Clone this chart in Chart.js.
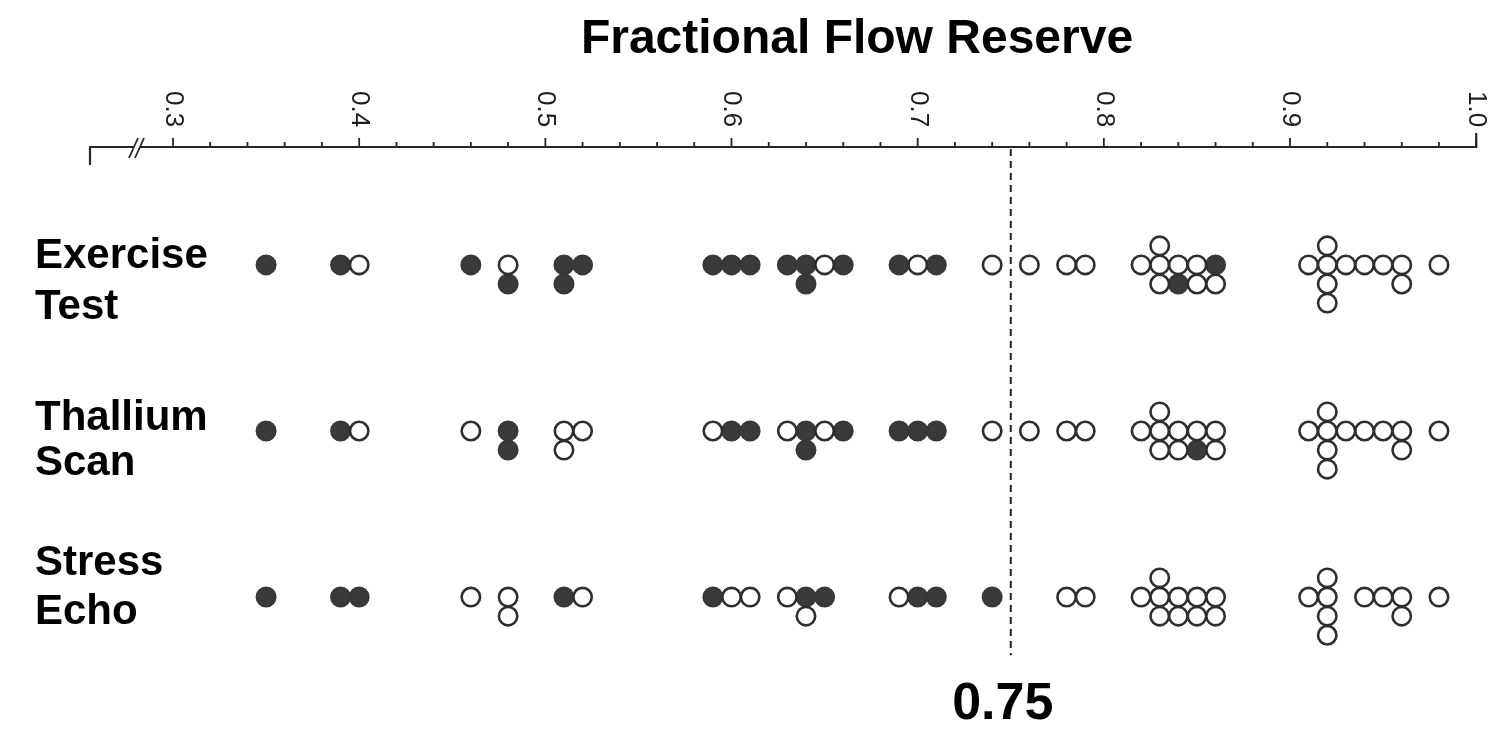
<!DOCTYPE html>
<html>
<head>
<meta charset="utf-8">
<title>Fractional Flow Reserve</title>
<script src="https://cdn.jsdelivr.net/npm/chart.js@4.4.0/dist/chart.umd.min.js"></script>
<style>
  html, body { margin: 0; padding: 0; background: #fff; }
  #wrap { width: 1488px; height: 750px; }
</style>
</head>
<body>
<div id="wrap"><canvas id="myChart" width="1488" height="750"></canvas></div>
<script>
// test names (two lines each), in row order
const testNames = [['Exercise', 'Test'], ['Thallium', 'Scan'], ['Stress', 'Echo']];

// FFR of each patient per test; 1 = test abnormal (filled dot), 0 = normal (open dot)
// patients with the same FFR are listed in their stacking order: centre, below, above, below again
const exerciseFFR = [0.35, 0.39, 0.40, 0.46, 0.48, 0.48, 0.51, 0.51, 0.52, 0.59, 0.60, 0.61, 0.63, 0.64, 0.64,
  0.65, 0.66, 0.69, 0.70, 0.71, 0.74, 0.76, 0.78, 0.79, 0.82, 0.83, 0.83, 0.83, 0.84, 0.84, 0.85, 0.85,
  0.86, 0.86, 0.91, 0.92, 0.92, 0.92, 0.92, 0.93, 0.94, 0.95, 0.96, 0.96, 0.98];
const exerciseAbnormal = [1, 1, 0, 1, 0, 1, 1, 1, 1, 1, 1, 1, 1, 1, 1,
  0, 1, 1, 0, 1, 0, 0, 0, 0, 0, 0, 0, 0, 0, 1, 0, 0,
  1, 0, 0, 0, 0, 0, 0, 0, 0, 0, 0, 0, 0];

const thalliumFFR = [0.35, 0.39, 0.40, 0.46, 0.48, 0.48, 0.51, 0.51, 0.52, 0.59, 0.60, 0.61, 0.63, 0.64, 0.64,
  0.65, 0.66, 0.69, 0.70, 0.71, 0.74, 0.76, 0.78, 0.79, 0.82, 0.83, 0.83, 0.83, 0.84, 0.84, 0.85, 0.85,
  0.86, 0.86, 0.91, 0.92, 0.92, 0.92, 0.92, 0.93, 0.94, 0.95, 0.96, 0.96, 0.98];
const thalliumAbnormal = [1, 1, 0, 0, 1, 1, 0, 0, 0, 0, 1, 1, 0, 1, 1,
  0, 1, 1, 1, 1, 0, 0, 0, 0, 0, 0, 0, 0, 0, 0, 0, 1,
  0, 0, 0, 0, 0, 0, 0, 0, 0, 0, 0, 0, 0];

const echoFFR = [0.35, 0.39, 0.40, 0.46, 0.48, 0.48, 0.51, 0.52, 0.59, 0.60, 0.61, 0.63, 0.64, 0.64,
  0.65, 0.69, 0.70, 0.71, 0.74, 0.78, 0.79, 0.82, 0.83, 0.83, 0.83, 0.84, 0.84, 0.85, 0.85,
  0.86, 0.86, 0.91, 0.92, 0.92, 0.92, 0.92, 0.94, 0.95, 0.96, 0.96, 0.98];
const echoAbnormal = [1, 1, 1, 0, 0, 0, 1, 0, 1, 0, 0, 0, 1, 0,
  1, 0, 1, 1, 1, 0, 0, 0, 0, 0, 0, 0, 0, 0, 0,
  0, 0, 0, 0, 0, 0, 0, 0, 0, 0, 0, 0];

// axis ticks
const majorTicks = [0.3, 0.4, 0.5, 0.6, 0.7, 0.8, 0.9, 1.0];
const cutOff = 0.75;
const axisTitle = 'Fractional Flow Reserve';

const FONT = '"Liberation Sans", Arial, Helvetica, sans-serif';
const DOT_STEP = 0.115;           // vertical distance between stacked dots, in row units
const SLOTS = [0, 1, -1, 2, -2];  // centre, below, above, ...

// build point lists for the two datasets
const rows = [[exerciseFFR, exerciseAbnormal], [thalliumFFR, thalliumAbnormal], [echoFFR, echoAbnormal]];
const filledPts = [];
const openPts = [];
rows.forEach(function (r, i) {
  const seen = {};
  for (let k = 0; k < r[0].length; k++) {
    const key = r[0][k].toFixed(2);
    const n = seen[key] || 0;
    seen[key] = n + 1;
    const pt = { x: r[0][k], y: (i + 1) + SLOTS[n] * DOT_STEP };
    if (r[1][k] == 1) filledPts.push(pt); else openPts.push(pt);
  }
});

const ffrAxis = {
  id: 'ffrAxis',
  afterDraw: function (chart) {
    const ctx = chart.ctx;
    const xs = chart.scales.x;
    const ys = chart.scales.y;
    const y0 = chart.chartArea.top;
    const xEnd = xs.getPixelForValue(1.0);
    ctx.save();
    ctx.strokeStyle = '#262626';
    ctx.fillStyle = '#1a1a1a';
    ctx.lineWidth = 2.2;
    ctx.lineCap = 'butt';

    // axis line with break
    ctx.beginPath();
    ctx.moveTo(90, y0 + 18);
    ctx.lineTo(90, y0);
    ctx.lineTo(134, y0);
    ctx.moveTo(140, y0);
    ctx.lineTo(xEnd, y0);
    ctx.lineTo(xEnd, y0 - 14);
    ctx.stroke();
    ctx.lineWidth = 1.8;
    ctx.beginPath();
    ctx.moveTo(129, y0 + 11); ctx.lineTo(138, y0 - 9);
    ctx.moveTo(135, y0 + 11); ctx.lineTo(144, y0 - 9);
    ctx.stroke();

    // ticks every 0.02
    ctx.lineWidth = 1.8;
    for (let i = 0; i <= 35; i++) {
      const v = 0.3 + i * 0.02;
      const px = xs.getPixelForValue(v);
      const major = (i % 5 == 0);
      ctx.beginPath();
      ctx.moveTo(px, y0);
      ctx.lineTo(px, y0 - (major ? 9 : 5));
      ctx.stroke();
    }

    // rotated tick labels
    ctx.font = '26px ' + FONT;
    ctx.fillStyle = '#1e1e1e';
    ctx.textAlign = 'left';
    ctx.textBaseline = 'middle';
    majorTicks.forEach(function (v) {
      const px = xs.getPixelForValue(v);
      ctx.save();
      ctx.translate(px, 91);
      ctx.rotate(Math.PI / 2);
      ctx.fillText(v.toFixed(1), 0, 0);
      ctx.restore();
    });

    // dashed cut-off line
    const xc = xs.getPixelForValue(cutOff);
    ctx.setLineDash([7, 5]);
    ctx.lineWidth = 2;
    ctx.beginPath();
    ctx.moveTo(xc, y0 + 2);
    ctx.lineTo(xc, ys.getPixelForValue(3.35));
    ctx.stroke();
    ctx.setLineDash([]);

    // texts
    ctx.fillStyle = '#000';
    ctx.textAlign = 'center';
    ctx.font = 'bold 48px ' + FONT;
    ctx.fillText(axisTitle, 857, 40);
    ctx.font = 'bold 52px ' + FONT;
    ctx.fillText(cutOff.toFixed(2), xc - 8, 705);

    ctx.textAlign = 'left';
    ctx.font = 'bold 42px ' + FONT;
    const lineY = [[256, 307], [418, 463], [563, 612]];
    testNames.forEach(function (t, i) {
      ctx.fillText(t[0], 35, lineY[i][0]);
      ctx.fillText(t[1], 35, lineY[i][1]);
    });
    ctx.restore();
  }
};

const config = {
  type: 'scatter',
  data: {
    datasets: [
      {
        label: 'Normal test',
        data: openPts,
        pointRadius: 9.2,
        pointHoverRadius: 9.2,
        borderWidth: 2.6,
        borderColor: '#2e2e2e',
        backgroundColor: '#ffffff',
        clip: false
      },
      {
        label: 'Abnormal test',
        data: filledPts,
        pointRadius: 9.2,
        pointHoverRadius: 9.2,
        borderWidth: 2.6,
        borderColor: '#383838',
        backgroundColor: '#3a3a3a',
        clip: false
      }
    ]
  },
  options: {
    responsive: false,
    animation: false,
    events: [],
    layout: { padding: { left: 173, right: 11, top: 147, bottom: 0 } },
    plugins: {
      legend: { display: false },
      title: { display: false },
      tooltip: { enabled: false }
    },
    scales: {
      x: { type: 'linear', min: 0.3, max: 1.0, display: false },
      y: { type: 'linear', min: 0.29, max: 3.85, reverse: true, display: false }
    }
  },
  plugins: [ffrAxis]
};

const myChart = new Chart(document.getElementById('myChart'), config);
</script>
</body>
</html>
